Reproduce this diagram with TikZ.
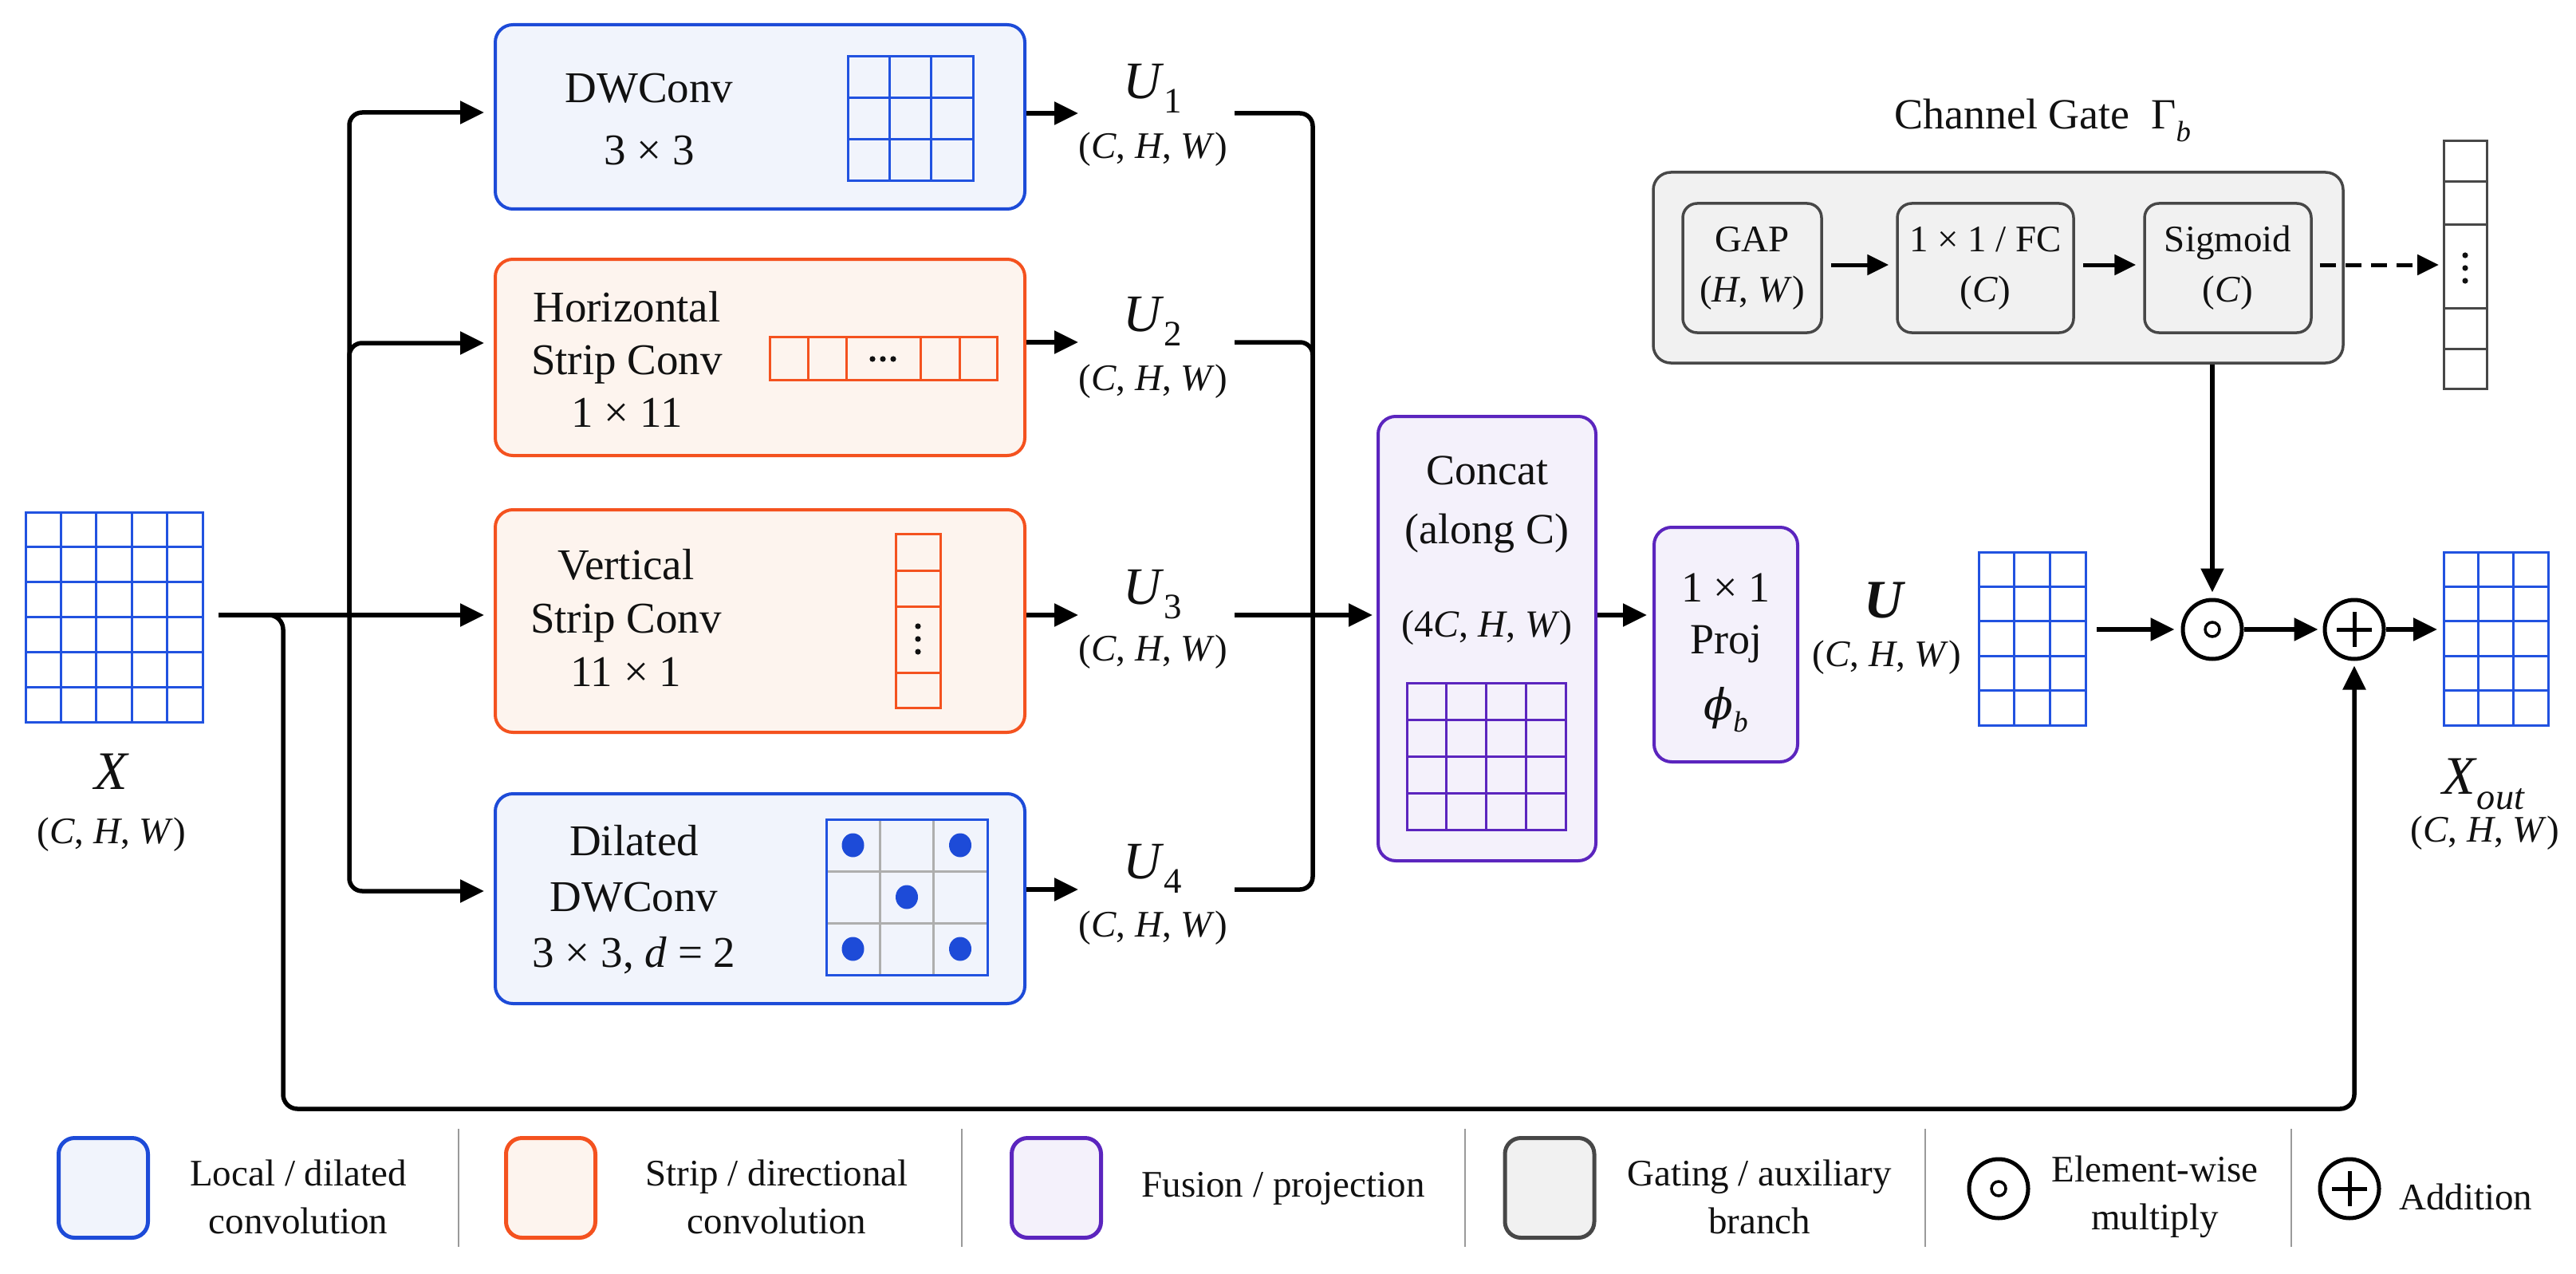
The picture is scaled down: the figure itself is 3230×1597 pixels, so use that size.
\documentclass[tikz,border=0pt]{standalone}
\usepackage{fontspec}
\setmainfont{Liberation Serif}
\newfontfamily\dvsfont{DejaVu Serif}
\usepackage{graphicx}
\usetikzlibrary{arrows.meta}
\definecolor{blueE}{HTML}{1D4BD8}
\definecolor{blueF}{HTML}{F1F4FC}
\definecolor{gridB}{HTML}{2152E0}
\definecolor{orangeE}{HTML}{F4521F}
\definecolor{orangeF}{HTML}{FDF4EE}
\definecolor{purpE}{HTML}{5B25BE}
\definecolor{purpF}{HTML}{F4F1FB}
\definecolor{grayE}{HTML}{474747}
\definecolor{grayF}{HTML}{F1F1F1}
\definecolor{sepC}{HTML}{9A9A9A}
\definecolor{ink}{HTML}{111111}
\newcommand\mysub[1]{\raisebox{-0.28em}{\scalebox{0.68}{#1}}}
\newcommand\chw{(\textit{C}, \textit{H}, \textit{W})}
\newcommand\fgrid[7]{%
  \pgfmathsetmacro\fgdx{(#3-#1)/#5}%
  \pgfmathsetmacro\fgdy{(#4-#2)/#6}%
  \foreach \i in {1,...,#5}{\draw[#7] ({#1+\i*\fgdx},#2) -- ({#1+\i*\fgdx},#4);}%
  \foreach \j in {1,...,#6}{\draw[#7] (#1,{#2+\j*\fgdy}) -- (#3,{#2+\j*\fgdy});}%
  \draw[#7] (#1,#2) rectangle (#3,#4);%
}
\begin{document}
\begin{tikzpicture}[x=1pt,y=-1pt,
  box/.style={draw, rounded corners=22pt, line width=4pt, inner sep=0pt},
  bbox/.style={box, draw=blueE, fill=blueF},
  obox/.style={box, draw=orangeE, fill=orangeF},
  pbox/.style={box, draw=purpE, fill=purpF},
  gbox/.style={box, draw=grayE, fill=grayF, line width=3.5pt},
  ibox/.style={box, draw=grayE, fill=grayF, line width=3.5pt, rounded corners=18pt, minimum height=162pt},
  legbox/.style={box, line width=5pt, rounded corners=20pt, minimum width=112pt, minimum height=125pt},
  arr/.style={draw=black, line width=5.5pt, -{Triangle[length=30pt,width=28pt]}},
  garr/.style={draw=black, line width=5pt, -{Triangle[length=27pt,width=25pt]}},
  wire/.style={draw=black, line width=5.5pt},
  txt/.style={inner sep=0pt, align=center, text=ink},
  bgrid/.style={draw=gridB, line width=3pt},
  ogrid/.style={draw=orangeE, line width=3pt},
  pgrid/.style={draw=purpE, line width=3pt},
  opc/.style={circle, draw=black, line width=5pt, minimum size=74pt, inner sep=0pt, fill=white},
  sepl/.style={draw=sepC, line width=2.5pt},
  hole/.style={inner sep=0pt, outer sep=0pt}
]
\fill[white] (0,0) rectangle (3230,1597);
\useasboundingbox (0,0) rectangle (3230,1597);

% ---------- branch boxes ----------
\node[bbox, minimum width=664pt, minimum height=231pt] (B1) at (953,146.5) {};
\node[obox, minimum width=664pt, minimum height=246pt] (B2) at (953,448) {};
\node[obox, minimum width=664pt, minimum height=279pt] (B3) at (953,778.5) {};
\node[bbox, minimum width=664pt, minimum height=263pt] (B4) at (953,1126.5) {};

\node[txt, font=\fontsize{55}{78}\selectfont] (T1) at (814,150) {DWConv\\3 × 3};
\node[txt, font=\fontsize{55}{66}\selectfont] (T2) at (786,450) {Horizontal\\Strip Conv\\1 × 11};
\node[txt, font=\fontsize{55}{67}\selectfont] (T3) at (785,774) {Vertical\\Strip Conv\\11 × 1};
\node[txt, font=\fontsize{55}{70}\selectfont] (T4) at (795,1128) {Dilated\\DWConv\\3 × 3, \textit{d} = 2};

% kernels
\fgrid{1063}{71}{1220}{227}{3}{3}{bgrid}
\foreach \xx in {1013,1061,1154,1203} \draw[ogrid] (\xx,422) -- (\xx,476);
\draw[ogrid] (965,422) rectangle (1250,476);
\foreach \xx in {1094,1107,1120} \fill[ink] (\xx,450) circle (3.6pt);
\foreach \yy in {715,760,843} \draw[ogrid] (1123,\yy) -- (1179,\yy);
\draw[ogrid] (1123,669) rectangle (1179,887);
\foreach \yy in {785,801,817} \fill[ink] (1151,\yy) circle (3.6pt);
\fgrid{1036}{1027}{1238}{1222}{3}{3}{draw=sepC!80, line width=3pt}
\draw[bgrid] (1036,1027) rectangle (1238,1222);
\foreach \cx/\cy in {1069.5/1059.5, 1204/1059.5, 1137/1124.5, 1069.5/1189.5, 1204/1189.5}
  \fill[blueE] (\cx,\cy) ellipse (14pt and 15pt);

% ---------- input X ----------
\node[hole, minimum width=222pt, minimum height=263pt, fill=white] (Xg) at (143,773.5) {};
\fgrid{32}{642}{254}{905}{5}{6}{bgrid}
\node[txt, font=\fontsize{68}{68}\selectfont] (Xl) at (140,967) {\textit{X}};
\node[txt, font=\fontsize{47}{47}\selectfont] (Xc) at (140,1046) {\chw};

\coordinate (y1) at (0,141);
\coordinate (y2) at (0,430);
\coordinate (y3) at (0,771);
\coordinate (y4) at (0,1117);
\coordinate (yg) at (0,332);
\coordinate (xs) at (274,771);
\coordinate (bus) at (438,771);
\coordinate (sk) at (355,1390);

\draw[arr, shorten >=12pt] (xs) -- (xs -| B3.west);
\draw[arr, rounded corners=16pt, shorten >=12pt] (bus) |- (B1.west |- y1);
\draw[arr, rounded corners=16pt, shorten >=12pt] (bus) |- (B2.west |- y2);
\draw[arr, rounded corners=16pt, shorten >=12pt] (bus) |- (B4.west |- y4);

% ---------- outputs U1..U4 ----------
\coordinate (o1) at (1352,142);
\coordinate (o2) at (1352,429);
\coordinate (o3) at (1352,771);
\coordinate (o4) at (1352,1115);
\draw[arr] (B1.east |- o1) -- (o1);
\draw[arr] (B2.east |- o2) -- (o2);
\draw[arr] (B3.east |- o3) -- (o3);
\draw[arr] (B4.east |- o4) -- (o4);

\node[txt, font=\fontsize{66}{66}\selectfont] (U1) at (1445,111) {\textit{U}\mysub{1}};
\node[txt, font=\fontsize{47}{47}\selectfont] (U1c) at (1446,187) {\chw};
\node[txt, font=\fontsize{66}{66}\selectfont] (U2) at (1445,403) {\textit{U}\mysub{2}};
\node[txt, font=\fontsize{47}{47}\selectfont] (U2c) at (1446,478) {\chw};
\node[txt, font=\fontsize{66}{66}\selectfont] (U3) at (1445,745) {\textit{U}\mysub{3}};
\node[txt, font=\fontsize{47}{47}\selectfont] (U3c) at (1446,817) {\chw};
\node[txt, font=\fontsize{66}{66}\selectfont] (U4) at (1445,1089) {\textit{U}\mysub{4}};
\node[txt, font=\fontsize{47}{47}\selectfont] (U4c) at (1446,1163) {\chw};

\coordinate (e1) at (1548,142);
\coordinate (e2) at (1548,429);
\coordinate (e3) at (1548,771);
\coordinate (e4) at (1548,1115);
\coordinate (mrg) at (1646,771);

% ---------- concat & proj ----------
\node[pbox, minimum width=273pt, minimum height=557pt] (Cc) at (1864.5,800.5) {};
\node[txt, font=\fontsize{54}{74}\selectfont] (Cct) at (1864.5,632) {Concat\\(along C)};
\node[txt, font=\fontsize{48}{48}\selectfont] (Ccs) at (1864.5,787) {(4\textit{C}, \textit{H}, \textit{W})};
\fgrid{1764}{856}{1963}{1040}{4}{4}{pgrid}

\draw[wire, rounded corners=16pt] (e1) -| (mrg);
\draw[wire, rounded corners=16pt] (e2) -| (mrg);
\draw[wire, rounded corners=16pt] (e4) -| (mrg);
\draw[arr, shorten >=5pt] (e3) -- (e3 -| Cc.west);

\node[pbox, minimum width=180pt, minimum height=294pt] (Pj) at (2164,808) {};
\node[txt, font=\fontsize{54}{65}\selectfont] (Pjt) at (2164,775) {1 × 1\\Proj};
\node[txt, font=\fontsize{54}{54}\selectfont] (Pjp) at (2164,890) {{\dvsfont\itshape ϕ}\mysub{\textit{b}}};
\draw[arr, shorten >=7pt] (Cc.east |- y3) -- (Pj.west |- y3);

% ---------- U and merge ----------
\node[txt, font=\fontsize{68}{68}\selectfont] (Ul) at (2363,753) {\textbf{\textit{U}}};
\node[txt, font=\fontsize{47}{47}\selectfont] (Uc) at (2366,824) {\chw};
\node[hole, minimum width=134pt, minimum height=217pt, fill=white] (Ug) at (2548,800.5) {};
\fgrid{2481}{692}{2615}{909}{3}{5}{bgrid}

\node[opc] (od) at (2774,789) {};
\draw[line width=3.5pt] (od.center) circle (9pt);
\node[opc] (pl) at (2952,789) {};
\draw[line width=5pt] ([xshift=-22pt]pl.center) -- ([xshift=22pt]pl.center);
\draw[line width=5pt] ([yshift=-22pt]pl.center) -- ([yshift=22pt]pl.center);

\node[hole, minimum width=131pt, minimum height=217pt, fill=white] (Xog) at (3129.5,800.5) {};
\fgrid{3064}{692}{3195}{909}{3}{5}{bgrid}
\node[txt, font=\fontsize{68}{68}\selectfont] (Xol) at (3114,983) {\textit{X}\mysub{\textit{out}}};
\node[txt, font=\fontsize{47}{47}\selectfont] (Xoc) at (3116,1044) {\chw};

\draw[arr, shorten >=8pt] ([xshift=14pt]Ug.east |- od) -- (od.west);
\draw[arr, shorten >=6pt] (od.east) -- (pl.west);
\draw[arr, shorten >=8pt] (pl.east) -- (Xog.west |- pl);

% skip connection
\draw[arr, rounded corners=18pt, shorten >=6pt] (xs) -| (sk) -| (pl.south);

% ---------- channel gate ----------
\node[txt, font=\fontsize{54}{54}\selectfont] (Gt) at (2561,151) {Channel Gate\enspace Γ\mysub{\textit{b}}};
\node[gbox, minimum width=865pt, minimum height=239pt] (G) at (2505.5,335.5) {};
\node[ibox, minimum width=174pt] (GAP) at (2197,336) {};
\node[txt, font=\fontsize{47}{63}\selectfont] at (GAP) {GAP\\(\textit{H}, \textit{W})};
\node[ibox, minimum width=221pt] (FC) at (2489.5,336) {};
\node[txt, font=\fontsize{47}{63}\selectfont] at (FC) {1 × 1 / FC\\(\textit{C})};
\node[ibox, minimum width=209pt] (Sg) at (2793.5,336) {};
\node[txt, font=\fontsize{47}{63}\selectfont] at (Sg) {Sigmoid\\(\textit{C})};
\draw[garr, shorten <=10pt, shorten >=9pt] (GAP.east |- yg) -- (FC.west |- yg);
\draw[garr, shorten <=10pt, shorten >=9pt] (FC.east |- yg) -- (Sg.west |- yg);

\node[hole, minimum width=54pt, minimum height=310pt, fill=white] (Vc) at (3091,332) {};
\foreach \yy in {228,282,386,437} \draw[draw=grayE, line width=3pt] (3064,\yy) -- (3118,\yy);
\draw[draw=grayE, line width=3pt] (3064,177) rectangle (3118,487);
\foreach \yy in {320,336,352} \fill[ink] (3091,\yy) circle (3.6pt);
\draw[garr, dash pattern=on 20pt off 12pt, shorten <=9pt, shorten >=6pt] (Sg.east |- yg) -- (Vc.west |- yg);

\draw[arr, shorten >=7pt] (od |- G.south) -- (od.north);

% ---------- legend ----------
\foreach \xx in {575,1206,1837,2414,2873} \draw[sepl] (\xx,1415) -- (\xx,1563);
\node[legbox, draw=blueE, fill=blueF] (L1) at (129.5,1489) {};
\node[txt, font=\fontsize{47}{60}\selectfont] (L1t) at (374,1500) {Local / dilated\\convolution};
\node[legbox, draw=orangeE, fill=orangeF] (L2) at (690.5,1489) {};
\node[txt, font=\fontsize{47}{60}\selectfont] (L2t) at (974,1500) {Strip / directional\\convolution};
\node[legbox, draw=purpE, fill=purpF] (L3) at (1324.5,1489) {};
\node[txt, font=\fontsize{47}{60}\selectfont] (L3t) at (1609,1490) {Fusion / projection};
\node[legbox, draw=grayE, fill=grayF] (L4) at (1943,1489) {};
\node[txt, font=\fontsize{47}{60}\selectfont] (L4t) at (2206,1500) {Gating / auxiliary\\branch};
\node[opc] (L5) at (2506,1490) {};
\draw[line width=3.5pt] (L5.center) circle (9pt);
\node[txt, font=\fontsize{47}{60}\selectfont] (L5t) at (2702,1500) {Element-wise\\multiply};
\node[opc] (L6) at (2946,1490) {};
\draw[line width=5pt] ([xshift=-22pt]L6.center) -- ([xshift=22pt]L6.center);
\draw[line width=5pt] ([yshift=-22pt]L6.center) -- ([yshift=22pt]L6.center);
\node[txt, font=\fontsize{47}{60}\selectfont, anchor=west] (L6t) at (3008,1500) {Addition};
\end{tikzpicture}
\end{document}
